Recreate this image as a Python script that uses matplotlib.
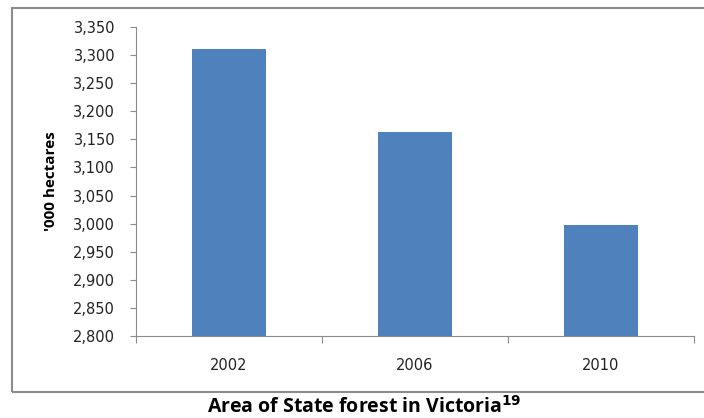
import matplotlib.pyplot as plt
from matplotlib.patches import Rectangle
from matplotlib.ticker import FuncFormatter, MultipleLocator

years = ["2002", "2006", "2010"]
area = [3311, 3163, 2998]

W, H = 704, 418
fig = plt.figure(figsize=(W / 100, H / 100), dpi=100)
plt.rcParams["font.family"] = ["Open Sans", "DejaVu Sans"]

# outer chart frame (runs past the right edge of the picture)
fig.patches.append(Rectangle((12 / W, 1 - 392 / H), 700 / W, (392 - 7.5) / H,
                             transform=fig.transFigure, fill=False,
                             edgecolor="#8c8c8c", linewidth=1.5))

ax = fig.add_axes([136 / W, 1 - 336 / H, (694 - 136) / W, (336 - 27) / H])
x = range(len(years))
ax.bar(x, area, width=0.4, color="#4f81bd")

ax.set_xlim(-0.5, len(years) - 0.5)
ax.set_ylim(2800, 3350)
ax.yaxis.set_major_locator(MultipleLocator(50))
ax.yaxis.set_major_formatter(FuncFormatter(lambda v, _: f"{v:,.0f}"))

ax.set_xticks([i - 0.5 for i in range(len(years) + 1)], minor=False)
ax.set_xticklabels([])
ax.set_xticks(list(x), minor=True)
ax.set_xticklabels(years, minor=True)
ax.tick_params(axis="x", which="minor", length=0, pad=16)
ax.tick_params(axis="x", which="major", length=5, color="#8c8c8c", direction="out")
ax.tick_params(axis="y", length=4, color="#8c8c8c", pad=11)
for lab in ax.get_yticklabels() + ax.get_xticklabels(minor=True):
    lab.set_family("DejaVu Sans")
    lab.set_fontsize(10.5)
    lab.set_color("#222222")

for side in ["top", "right"]:
    ax.spines[side].set_visible(False)
for side in ["left", "bottom"]:
    ax.spines[side].set_color("#8c8c8c")

ax.set_ylabel("'000 hectares", fontsize=11, fontweight="bold")
ax.yaxis.set_label_coords((58 - 136) / (694 - 136), 0.5)

fig.text(364 / W, 1 - 413 / H, "Area of State forest in Victoria$^{\\mathbf{19}}$",
         ha="center", va="baseline", fontsize=14, fontweight="bold")

fig.savefig("out.png", dpi=100)
